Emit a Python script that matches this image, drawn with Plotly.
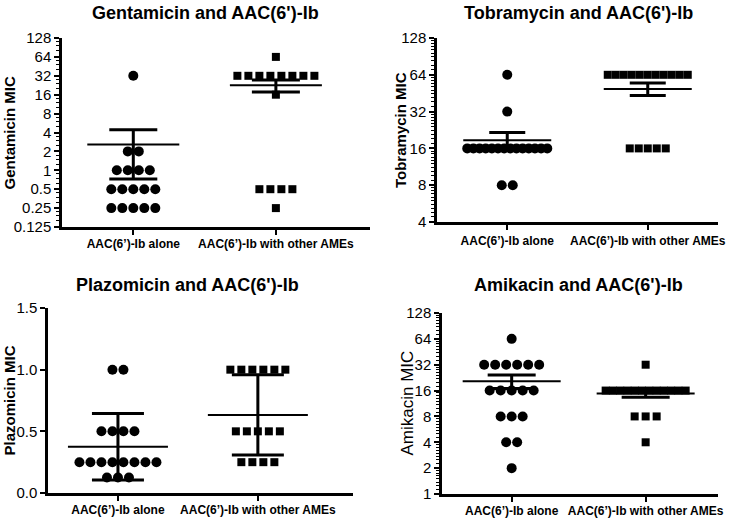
import numpy as np
import plotly.graph_objects as go

# ---------------- data ----------------
categories = ["AAC(6’)-Ib alone", "AAC(6’)-Ib with other AMEs"]

genta_alone = [32, 2, 2, 1, 1, 1, 1, 0.5, 0.5, 0.5, 0.5, 0.5, 0.25, 0.25, 0.25, 0.25, 0.25]
genta_others = [64, 32, 32, 32, 32, 32, 32, 32, 32, 16, 0.5, 0.5, 0.5, 0.5, 0.25]

tobra_alone = [64, 32] + [16] * 14 + [8, 8]
tobra_others = [64] * 11 + [16] * 5

plazo_alone = [1, 1, 0.5, 0.5, 0.5, 0.5] + [0.25] * 8 + [0.125] * 3
plazo_others = [1] * 6 + [0.5] * 5 + [0.25] * 4

amik_alone = [64] + [32] * 6 + [16] * 5 + [8] * 3 + [4] * 2 + [2]
amik_others = [32] + [16] * 12 + [8] * 3 + [4]

genta_ticks = [0.125, 0.25, 0.5, 1, 2, 4, 8, 16, 32, 64, 128]
genta_ticktext = ["0.125", "0.25", "0.5", "1", "2", "4", "8", "16", "32", "64", "128"]
tobra_ticks = [4, 8, 16, 32, 64, 128]
tobra_ticktext = ["4", "8", "16", "32", "64", "128"]
plazo_ticks = [0.0, 0.5, 1.0, 1.5]
plazo_ticktext = ["0.0", "0.5", "1.0", "1.5"]
amik_ticks = [1, 2, 4, 8, 16, 32, 64, 128]
amik_ticktext = ["1", "2", "4", "8", "16", "32", "64", "128"]

W, H = 750, 521
FONT = "Liberation Sans, Arial, sans-serif"

panels = [
    dict(title="Gentamicin and AAC(6')-Ib", ytitle="Gentamicin MIC", ybold=True, ysize=15,
         groups=(genta_alone, genta_others), log=True, ticks=genta_ticks, ticktext=genta_ticktext,
         px=(62, 370), py=(38, 227), xr=(-0.5, 1.66), cap=24, meanhalf=46, err="sem",
         title_xy=(205, 13), ytitle_x=9, minor_n=4, standoff=-1, sp=11.0),
    dict(title="Tobramycin and AAC(6')-Ib", ytitle="Tobramycin MIC", ybold=True, ysize=15,
         groups=(tobra_alone, tobra_others), log=True, ticks=tobra_ticks, ticktext=tobra_ticktext,
         px=(437, 718), py=(38, 222), xr=(-0.5, 1.5), cap=18, meanhalf=44, err="sem",
         title_xy=(578, 13), ytitle_x=400, minor_n=10, standoff=1, sp=9.0),
    dict(title="Plazomicin and AAC(6')-Ib", ytitle="Plazomicin MIC", ybold=True, ysize=15,
         groups=(plazo_alone, plazo_others), log=False, ticks=plazo_ticks, ticktext=plazo_ticktext,
         px=(48, 353), py=(308, 493), xr=(-0.5, 1.68), cap=26, meanhalf=50, err="sd",
         title_xy=(187, 285), ytitle_x=9, minor_n=0, standoff=-1, sp=11.0),
    dict(title="Amikacin and AAC(6')-Ib", ytitle="Amikacin MIC", ybold=False, ysize=17,
         groups=(amik_alone, amik_others), log=True, ticks=amik_ticks, ticktext=amik_ticktext,
         px=(442, 718), py=(313, 494), xr=(-0.52, 1.54), cap=24, meanhalf=49, err="sem",
         title_xy=(578, 285), ytitle_x=407, minor_n=8, standoff=-1, sp=11.0),
]

symbols = ["circle", "square"]
msizes = [10, 8]

fig = go.Figure()
annotations = []

for p_i, p in enumerate(panels):
    sfx = "" if p_i == 0 else str(p_i + 1)
    xa, ya = "x" + sfx, "y" + sfx
    unit_px = (p["px"][1] - p["px"][0]) / (p["xr"][1] - p["xr"][0])
    for g_i, vals in enumerate(p["groups"]):
        vals = np.array(vals, dtype=float)
        xs, ys = [], []
        for v in sorted(set(vals), reverse=True):
            k = int(np.sum(vals == v))
            base = 11.0 if (g_i == 0) else p["sp"]
            sp_px = base if k == 1 else min(base, 80.0 / (k - 1))
            sp = sp_px / unit_px
            for j in range(k):
                xs.append(g_i + (j - (k - 1) / 2) * sp)
                ys.append(v)
        fig.add_trace(go.Scatter(x=xs, y=ys, mode="markers", xaxis=xa, yaxis=ya,
                                 marker=dict(symbol=symbols[g_i], size=msizes[g_i], color="black",
                                             line=dict(width=0)),
                                 showlegend=False, hoverinfo="skip"))
        mean = vals.mean()
        sd = vals.std(ddof=1)
        err = sd if p["err"] == "sd" else sd / np.sqrt(len(vals))
        hw = p["meanhalf"] / unit_px
        fig.add_trace(go.Scatter(x=[g_i - hw, g_i + hw], y=[mean, mean], mode="lines",
                                 xaxis=xa, yaxis=ya, line=dict(color="black", width=2),
                                 showlegend=False, hoverinfo="skip"))
        fig.add_trace(go.Scatter(x=[g_i], y=[mean], mode="lines", xaxis=xa, yaxis=ya,
                                 error_y=dict(type="data", array=[err], visible=True,
                                              width=p["cap"], thickness=3, color="black"),
                                 line=dict(color="black", width=0),
                                 showlegend=False, hoverinfo="skip"))

    xdom = [p["px"][0] / W, p["px"][1] / W]
    ydom = [1 - p["py"][1] / H, 1 - p["py"][0] / H]
    fig.update_layout({
        "xaxis" + sfx: dict(domain=xdom, anchor=ya, range=list(p["xr"]), showgrid=False,
                            zeroline=False, showline=True, linecolor="black", linewidth=2.5,
                            tickvals=[0, 1], ticktext=["<b>%s</b>" % c for c in categories],
                            ticks="outside", ticklen=5, tickwidth=1.5, tickcolor="black",
                            ticklabelstandoff=p["standoff"], automargin=False,
                            tickfont=dict(family=FONT, size=12, color="black")),
    })
    ylay = dict(domain=ydom, anchor=xa, showgrid=False, zeroline=False, showline=True,
                linecolor="black", linewidth=2.5, ticks="outside", ticklen=5, tickwidth=2,
                tickcolor="black", tickvals=p["ticks"], ticktext=p["ticktext"], automargin=False,
                tickfont=dict(family=FONT, size=15, color="black"))
    if p["log"]:
        ylay["type"] = "log"
        ylay["range"] = [np.log10(p["ticks"][0]), np.log10(p["ticks"][-1])]
        m = p["minor_n"]
        minor_vals = []
        for a in p["ticks"][:-1]:
            for k in range(1, m):
                minor_vals.append(a * (1 + k / m))
        ylay["minor"] = dict(tickvals=minor_vals, ticks="outside", ticklen=3, tickwidth=1,
                             tickcolor="black", showgrid=False)
    else:
        ylay["range"] = [p["ticks"][0], p["ticks"][-1]]
    fig.update_layout({"yaxis" + sfx: ylay})

    annotations.append(dict(text="<b>%s</b>" % p["title"], xref="paper", yref="paper",
                            x=p["title_xy"][0] / W, y=1 - p["title_xy"][1] / H,
                            xanchor="center", yanchor="middle", showarrow=False,
                            font=dict(family=FONT, size=18, color="black")))
    ytxt = "<b>%s</b>" % p["ytitle"] if p["ybold"] else p["ytitle"]
    annotations.append(dict(text=ytxt, xref="paper", yref="paper",
                            x=p["ytitle_x"] / W, y=1 - (p["py"][0] + p["py"][1]) / 2 / H,
                            xanchor="center", yanchor="middle", textangle=-90, showarrow=False,
                            font=dict(family=FONT, size=p["ysize"], color="black")))

fig.update_layout(width=W, height=H, margin=dict(l=0, r=0, t=0, b=0, autoexpand=False),
                  paper_bgcolor="white", plot_bgcolor="white", annotations=annotations,
                  showlegend=False)

fig.write_html("out.html", config={"displayModeBar": False},
               post_script="document.body.style.margin='0';document.body.style.overflow='hidden';")
